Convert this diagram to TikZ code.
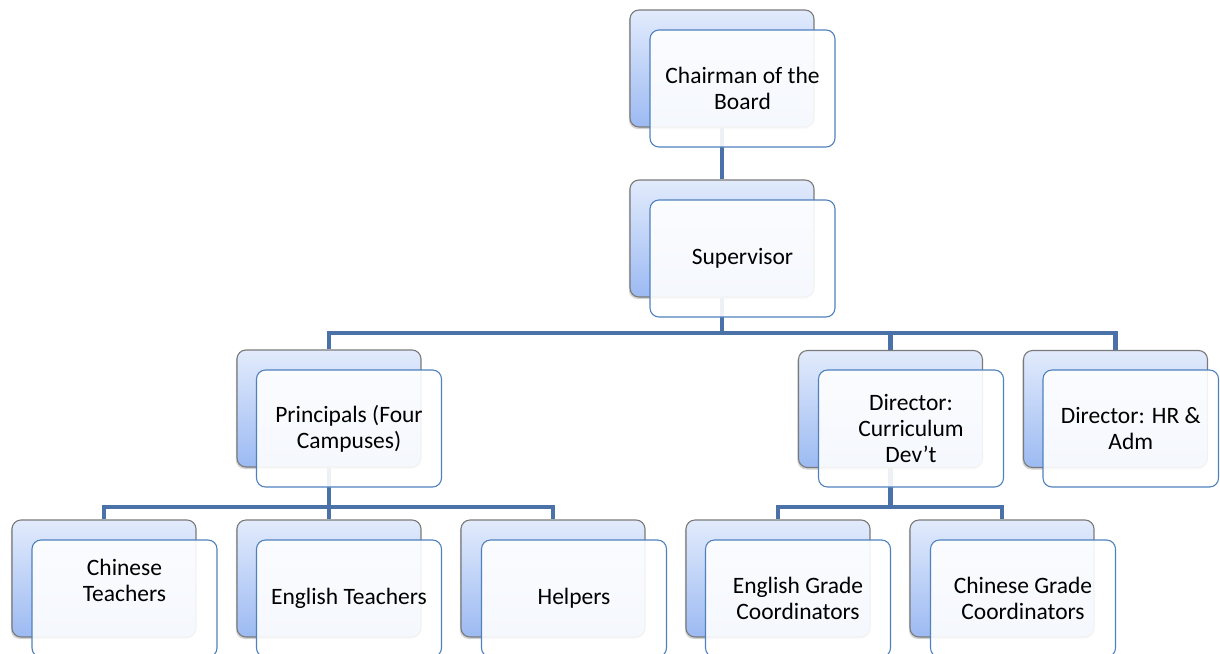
\documentclass[tikz,border=0pt]{standalone}
\usepackage{fontspec}
\setmainfont{Carlito}
\usetikzlibrary{shadows}
\pgfdeclarelayer{wires}
\pgfsetlayers{wires,main}
\definecolor{linkblue}{HTML}{4A72A9}
\definecolor{edgeblue}{HTML}{4F81BD}
\definecolor{shadetop}{HTML}{E2EBFC}
\definecolor{shadebot}{HTML}{9CBAF2}
\tikzset{
  backcard/.style={draw=black!52, line width=1.1pt, rounded corners=9pt,
    top color=shadetop, bottom color=shadebot,
    minimum width=184pt, minimum height=117pt, inner sep=0pt,
    drop shadow={shadow xshift=-1.2pt, shadow yshift=-2pt, opacity=0.35}},
  frontcard/.style={draw=edgeblue, line width=1.1pt, rounded corners=9pt,
    fill=white, fill opacity=0.9, text opacity=1,
    minimum width=185pt, minimum height=117pt, inner sep=0pt,
    font=\fontsize{23.5}{26}\selectfont, align=center},
  link/.style={draw=linkblue, line width=4.5pt}
}
\begin{document}
\begin{tikzpicture}[x=1pt, y=-1pt]
\useasboundingbox (0,0) rectangle (1220,653);
% back cards
\node[backcard] (chairB) at (722,68.5) {};
\node[backcard] (supB) at (722,238.5) {};
\node[backcard] (prinB) at (329,408.5) {};
\node[backcard] (curB) at (890.5,409) {};
\node[backcard] (hrB) at (1115.5,409) {};
\node[backcard] (chtB) at (104,578.5) {};
\node[backcard] (entB) at (329,578.5) {};
\node[backcard] (helB) at (553,578.5) {};
\node[backcard] (egcB) at (778,578.5) {};
\node[backcard] (cgcB) at (1002,578.5) {};
% connectors, kept behind the cards
\begin{pgfonlayer}{wires}
\draw[link] (chairB.south) -- (supB.north);
\draw[link] (supB.south) -- (supB.south |- 0,333) coordinate (busA);
\draw[link] (prinB.north) |- (busA) -| (hrB.north);
\draw[link] (busA) -| (curB.north);
\draw[link] (prinB.south) -- (prinB.south |- 0,507) coordinate (busB);
\draw[link] (chtB.north) |- (busB) -| (helB.north);
\draw[link] (busB) -- (entB.north);
\draw[link] (curB.south) -- (curB.south |- 0,507) coordinate (busC);
\draw[link] (egcB.north) |- (busC) -| (cgcB.north);
\end{pgfonlayer}
% front cards with labels
\node[frontcard] (chairF) at (742.5,88.5) {Chairman of the\\Board};
\node[frontcard] (supF) at (742.5,258.5) {Supervisor};
\node[frontcard] (prinF) at (349,428.5) {Principals (Four\\Campuses)};
\node[frontcard] (curF) at (911,428.5) {Director:\\Curriculum\\Dev’t};
\node[frontcard, minimum width=175.5pt] (hrF) at (1130.75,428.5) {Director: HR \&\\Adm};
\node[frontcard, text depth=36pt] (chtF) at (124.5,598.5) {Chinese\\Teachers};
\node[frontcard] (entF) at (349,598.5) {English Teachers};
\node[frontcard] (helF) at (574,598.5) {Helpers};
\node[frontcard] (egcF) at (798,598.5) {English Grade\\Coordinators};
\node[frontcard] (cgcF) at (1023,598.5) {Chinese Grade\\Coordinators};
\end{tikzpicture}
\end{document}
